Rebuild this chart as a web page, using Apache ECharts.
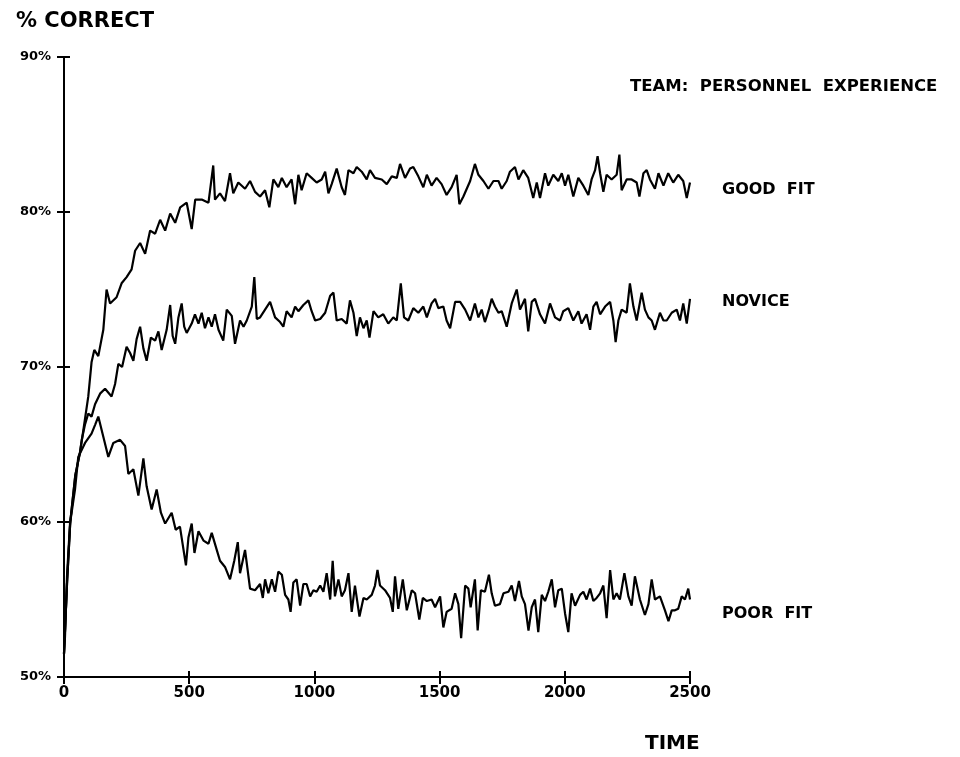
<!DOCTYPE html>
<html>
<head>
<meta charset="utf-8">
<script src="https://cdn.jsdelivr.net/npm/echarts@6/dist/echarts.min.js"></script>
<style>
  html, body { margin: 0; padding: 0; background: #fff; }
  #chart { width: 960px; height: 757px; }
</style>
</head>
<body>
<div id="chart"></div>
<script>
// values: [time, % correct]
const goodFit = [
  [0,51.5],[12,56],[25,60],[45,63],[64,64.5],[77,65.9],[97,68.1],[110,70.3],[121,71.1],[137,70.7],
  [157,72.4],[170,75.0],[184,74.1],[210,74.5],[230,75.4],[250,75.8],[270,76.3],[284,77.5],[304,78.0],[324,77.3],
  [344,78.8],[364,78.6],[384,79.5],[404,78.8],[424,79.9],[444,79.3],[464,80.3],[490,80.6],[510,78.9],[524,80.8],
  [550,80.8],[577,80.6],[596,83.0],[603,80.8],[623,81.2],[643,80.7],[663,82.5],[676,81.2],[696,81.9],[723,81.5],
  [743,82.0],[763,81.3],[783,81.0],[803,81.4],[820,80.3],[836,82.1],[856,81.6],[870,82.2],[889,81.6],[909,82.1],
  [923,80.5],[936,82.4],[949,81.4],[969,82.5],[989,82.2],[1009,81.9],[1029,82.1],[1043,82.6],[1056,81.2],[1069,81.8],
  [1089,82.8],[1109,81.6],[1122,81.1],[1136,82.7],[1156,82.5],[1169,82.9],[1189,82.6],[1209,82.1],[1222,82.7],[1242,82.2],
  [1269,82.1],[1289,81.8],[1309,82.3],[1329,82.2],[1342,83.1],[1362,82.2],[1382,82.8],[1395,82.9],[1415,82.3],[1435,81.6],
  [1449,82.4],[1468,81.7],[1488,82.2],[1508,81.8],[1528,81.1],[1548,81.6],[1568,82.4],[1579,80.5],[1595,81.0],[1622,82.0],
  [1641,83.1],[1655,82.4],[1675,82.0],[1695,81.5],[1715,82.0],[1735,82.0],[1748,81.5],[1768,82.0],[1781,82.6],[1801,82.9],
  [1815,82.1],[1834,82.7],[1854,82.2],[1874,80.9],[1888,81.9],[1901,80.9],[1921,82.5],[1934,81.7],[1954,82.4],[1974,82.0],
  [1988,82.5],[2001,81.7],[2014,82.4],[2034,81.0],[2054,82.2],[2074,81.7],[2094,81.1],[2107,82.1],[2121,82.7],[2131,83.6],
  [2141,82.5],[2154,81.3],[2167,82.4],[2187,82.1],[2207,82.4],[2218,83.7],[2227,81.4],[2247,82.1],[2267,82.1],[2287,81.9],
  [2298,81.0],[2314,82.5],[2327,82.7],[2340,82.1],[2360,81.5],[2374,82.5],[2394,81.7],[2413,82.5],[2433,81.9],[2453,82.4],
  [2473,82.0],[2487,80.9],[2500,81.9]
];

const novice = [
  [0,51.5],[12,56],[25,60],[45,63],[64,64.5],[71,65.3],[84,66.3],[97,67.0],[110,66.8],[124,67.6],
  [145,68.3],[164,68.6],[190,68.1],[204,68.9],[217,70.2],[232,70.0],[250,71.3],[264,70.9],[277,70.4],[290,71.8],
  [304,72.6],[317,71.2],[330,70.4],[347,71.9],[364,71.7],[377,72.3],[390,71.1],[410,72.4],[424,74.0],[434,72.0],
  [444,71.5],[457,73.2],[470,74.1],[480,72.6],[490,72.2],[510,72.8],[523,73.4],[537,72.8],[550,73.5],[563,72.5],
  [577,73.2],[590,72.6],[603,73.4],[617,72.4],[636,71.7],[650,73.7],[670,73.3],[683,71.5],[703,73.0],[717,72.6],
  [730,73.0],[750,73.9],[760,75.8],[770,73.1],[783,73.2],[803,73.7],[823,74.2],[843,73.2],[863,72.9],[876,72.6],
  [889,73.6],[909,73.2],[923,73.9],[936,73.6],[956,74.0],[976,74.3],[989,73.6],[1003,73.0],[1023,73.1],[1043,73.5],
  [1063,74.6],[1076,74.8],[1089,73.0],[1109,73.1],[1129,72.8],[1142,74.3],[1156,73.5],[1169,72.0],[1182,73.2],[1196,72.5],
  [1209,73.0],[1220,71.9],[1236,73.6],[1255,73.2],[1275,73.4],[1295,72.8],[1315,73.2],[1329,73.0],[1345,75.4],[1358,73.2],
  [1375,73.0],[1395,73.8],[1415,73.5],[1435,73.9],[1449,73.2],[1468,74.1],[1482,74.4],[1495,73.8],[1515,73.9],[1528,73.0],
  [1542,72.5],[1562,74.2],[1582,74.2],[1602,73.7],[1622,73.0],[1641,74.1],[1655,73.2],[1668,73.7],[1681,72.9],[1695,73.6],
  [1708,74.4],[1721,73.9],[1735,73.5],[1748,73.6],[1768,72.6],[1788,74.1],[1808,75.0],[1821,73.7],[1841,74.4],[1854,72.3],
  [1868,74.2],[1881,74.4],[1901,73.4],[1921,72.8],[1941,74.1],[1961,73.2],[1981,73.0],[1994,73.6],[2014,73.8],[2034,73.0],
  [2054,73.6],[2067,72.8],[2087,73.4],[2101,72.4],[2114,73.9],[2127,74.2],[2141,73.4],[2161,73.9],[2181,74.2],[2194,73.0],
  [2203,71.6],[2214,73.0],[2227,73.7],[2247,73.5],[2260,75.4],[2274,73.9],[2287,73.0],[2307,74.8],[2320,73.7],[2334,73.2],
  [2347,73.0],[2360,72.4],[2380,73.5],[2394,73.0],[2407,73.0],[2427,73.5],[2447,73.7],[2460,73.0],[2473,74.1],[2487,72.8],
  [2500,74.4]
];

const poorFit = [
  [0,51.5],[4,52.6],[12,56.5],[24,59.9],[44,62.1],[57,64.2],[84,65.1],[110,65.7],[125,66.3],[137,66.8],
  [157,65.5],[177,64.2],[197,65.1],[224,65.3],[244,64.9],[257,63.1],[277,63.4],[297,61.7],[317,64.1],[330,62.3],
  [350,60.8],[370,62.1],[387,60.6],[404,59.9],[430,60.6],[446,59.5],[463,59.7],[487,57.2],[497,59.0],[510,59.9],
  [521,58.0],[537,59.4],[557,58.8],[577,58.6],[590,59.3],[610,58.2],[623,57.5],[643,57.1],[663,56.3],[680,57.5],
  [694,58.7],[703,56.7],[723,58.2],[743,55.7],[763,55.6],[783,56.0],[794,55.1],[803,56.3],[816,55.4],[830,56.3],
  [843,55.5],[856,56.8],[870,56.6],[883,55.3],[896,55.0],[905,54.2],[916,56.1],[929,56.3],[943,54.6],[956,56.0],
  [969,56.0],[983,55.2],[996,55.6],[1009,55.5],[1023,55.9],[1036,55.5],[1049,56.7],[1063,55.0],[1073,57.5],[1082,55.2],
  [1096,56.3],[1109,55.2],[1122,55.6],[1136,56.7],[1149,54.2],[1162,55.9],[1180,53.9],[1196,55.1],[1209,55.0],[1229,55.3],
  [1242,55.9],[1252,56.9],[1262,55.9],[1282,55.6],[1302,55.1],[1313,54.2],[1322,56.5],[1335,54.4],[1353,56.3],[1369,54.3],
  [1389,55.6],[1402,55.4],[1419,53.7],[1433,55.1],[1449,54.9],[1468,55.0],[1482,54.5],[1502,55.2],[1515,53.2],[1528,54.2],
  [1548,54.4],[1562,55.4],[1575,54.7],[1586,52.5],[1602,55.9],[1615,55.7],[1624,54.5],[1641,56.3],[1652,53.0],[1665,55.6],
  [1681,55.5],[1697,56.6],[1708,55.4],[1721,54.6],[1741,54.7],[1755,55.4],[1775,55.5],[1788,55.9],[1801,54.9],[1817,56.2],
  [1828,55.2],[1841,54.7],[1855,53.0],[1868,54.5],[1881,55.0],[1894,52.9],[1908,55.3],[1921,54.9],[1934,55.5],[1948,56.3],
  [1961,54.5],[1974,55.6],[1988,55.7],[2001,54.1],[2014,52.9],[2027,55.4],[2041,54.6],[2061,55.3],[2074,55.5],[2087,55.0],
  [2101,55.7],[2114,54.9],[2127,55.1],[2141,55.4],[2154,55.9],[2167,53.8],[2181,56.9],[2194,55.0],[2207,55.4],[2220,55.0],
  [2238,56.7],[2254,55.2],[2267,54.6],[2280,56.5],[2300,55.0],[2320,54.0],[2334,54.7],[2347,56.3],[2360,55.0],[2380,55.2],
  [2400,54.3],[2414,53.6],[2427,54.3],[2440,54.3],[2453,54.4],[2467,55.2],[2480,55.0],[2493,55.7],[2500,55.0]
];

const xTicks = [0, 500, 1000, 1500, 2000, 2500];
const yTicks = [50, 60, 70, 80, 90];

const font = 'DejaVu Sans';
const ink = '#000';

const chart = echarts.init(document.getElementById('chart'));

function line(name, data, offsetY) {
  return {
    name: name,
    type: 'line',
    data: data,
    showSymbol: false,
    lineStyle: { color: ink, width: 2.2 },
    endLabel: {
      show: true,
      formatter: name,
      distance: 32,
      offset: [0, offsetY],
      color: ink,
      fontFamily: font,
      fontWeight: 'bold',
      fontSize: 16
    }
  };
}

chart.setOption({
  animation: false,
  backgroundColor: '#fff',
  grid: { left: 64, right: 270, top: 57, bottom: 80 },
  xAxis: [{
    type: 'value',
    min: xTicks[0], max: xTicks[xTicks.length - 1], interval: 500,
    splitLine: { show: false },
    axisLine: { lineStyle: { color: ink, width: 2 } },
    axisTick: { length: 7, lineStyle: { color: ink, width: 2 } },
    axisLabel: { formatter: v => String(v), color: ink, fontFamily: font, fontWeight: 'bold', fontSize: 15, margin: 9 }
  }, {
    type: 'value', position: 'bottom',
    min: xTicks[0], max: xTicks[xTicks.length - 1], interval: 500,
    splitLine: { show: false },
    axisLine: { show: false },
    axisTick: { inside: true, length: 6, lineStyle: { color: ink, width: 2 } },
    axisLabel: { show: false }
  }],
  yAxis: [{
    type: 'value',
    min: yTicks[0], max: yTicks[yTicks.length - 1], interval: 10,
    splitLine: { show: false },
    axisLine: { lineStyle: { color: ink, width: 2 } },
    axisTick: { length: 7, lineStyle: { color: ink, width: 2 } },
    axisLabel: { formatter: '{value}%', color: ink, fontFamily: font, fontWeight: 'bold', fontSize: 13, margin: 13 }
  }, {
    type: 'value', position: 'left',
    min: yTicks[0], max: yTicks[yTicks.length - 1], interval: 10,
    splitLine: { show: false },
    axisLine: { show: false },
    axisTick: { inside: true, length: 6, lineStyle: { color: ink, width: 2 } },
    axisLabel: { show: false }
  }],
  graphic: [
    { type: 'text', left: 16, top: 11,
      style: { text: '% CORRECT', fill: ink, font: 'bold 21px "DejaVu Sans"' } },
    { type: 'text', left: 630, top: 78,
      style: { text: 'TEAM:  PERSONNEL  EXPERIENCE', fill: ink, font: 'bold 16.5px "DejaVu Sans"' } },
    { type: 'text', left: 645, top: 734,
      style: { text: 'TIME', fill: ink, font: 'bold 20px "DejaVu Sans"' } }
  ],
  series: [
    line('GOOD  FIT', goodFit, 7),
    line('NOVICE', novice, 3),
    line('POOR  FIT', poorFit, 14)
  ]
});
</script>
</body>
</html>
